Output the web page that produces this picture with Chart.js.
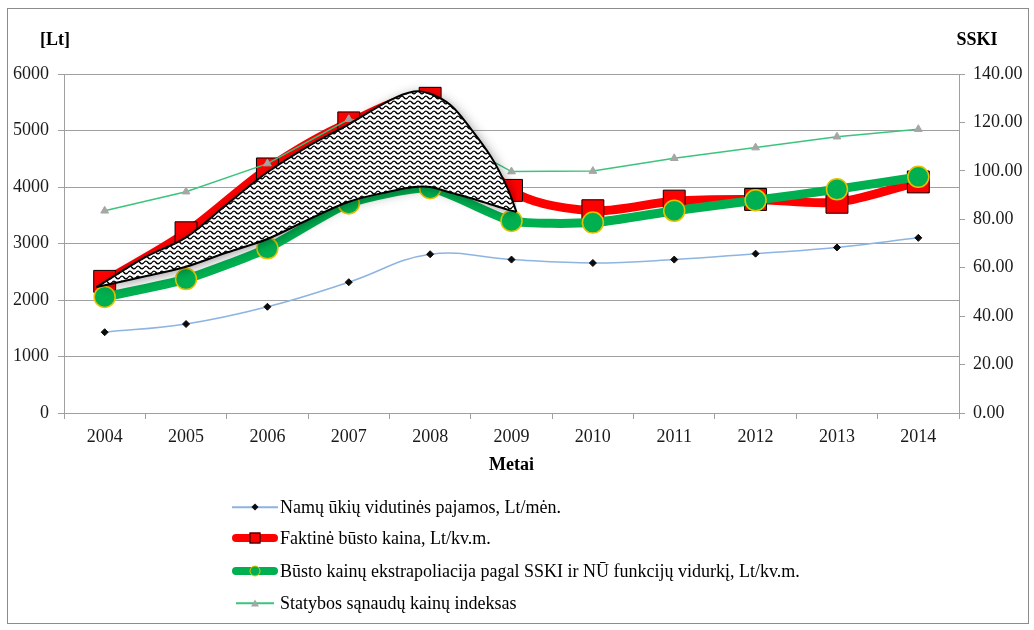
<!DOCTYPE html>
<html>
<head>
<meta charset="utf-8">
<script src="https://cdn.jsdelivr.net/npm/chart.js@4.4.1/dist/chart.umd.min.js"></script>
<style>
  html, body { margin: 0; padding: 0; background: #fff; }
  #wrap { position: relative; width: 1034px; height: 630px; font-family: "Liberation Serif", "Times New Roman", serif; color: #000; }
  #frame { position: absolute; left: 7px; top: 8px; width: 1020px; height: 614px; border: 1px solid #8c8c8c; }
  #chart { position: absolute; left: 0; top: 0; }
  .axt { position: absolute; font-weight: bold; font-size: 18px; transform: translate(-50%, -50%); white-space: nowrap; }
  #legend { position: absolute; left: 232px; top: 490px; }
  .li { position: absolute; left: 0; height: 20px; white-space: nowrap; font-size: 18px; }
  .sym { position: absolute; left: 0; top: 0; width: 46px; height: 20px; }
  .ln { position: absolute; left: 0; right: 0; top: 50%; transform: translateY(-50%); }
  .mk { position: absolute; left: 50%; top: 50%; transform: translate(-50%, -50%); }
  .tx { position: absolute; left: 48px; top: 50%; transform: translateY(-50%); line-height: 20px; }
</style>
</head>
<body>
<div id="wrap">
  <div id="frame"></div>
  <canvas id="chart" width="1034" height="630"></canvas>
  <div class="axt" style="left:55px; top:39px;">[Lt]</div>
  <div class="axt" style="left:977px; top:39px;">SSKI</div>
  <div id="legend"></div>
</div>
<script>
// metai
const years = ["2004", "2005", "2006", "2007", "2008", "2009", "2010", "2011", "2012", "2013", "2014"];
// Lt axis series
const incomeLt = [1430, 1575, 1880, 2315, 2810, 2715, 2655, 2715, 2820, 2930, 3100];
const priceLt = [2330, 3190, 4320, 5135, 5570, 3940, 3580, 3750, 3780, 3730, 4090];
const extrapLt = [2055, 2370, 2915, 3710, 3980, 3400, 3370, 3580, 3765, 3960, 4180];
// SSKI axis series
const sskiIdx = [83.5, 91.4, 103.0, 121.3, 118.0, 99.7, 99.9, 105.2, 109.6, 114.1, 117.2];
// hatched "bubble" outline (upper / lower edge)
const hatchYears = [2003.9, 2004.5, 2005, 2005.5, 2006, 2006.5, 2007, 2007.5, 2007.8, 2008, 2008.25, 2008.5, 2008.75, 2008.95, 2009.06];
const hatchTop = [2230, 2760, 3110, 3690, 4260, 4720, 5110, 5530, 5690, 5650, 5450, 5030, 4530, 3980, 3560];
const hatchBottom = [2230, 2420, 2590, 2840, 3080, 3420, 3740, 3920, 4000, 4000, 3900, 3800, 3690, 3600, 3560];

const labels = [
  "Namų ūkių vidutinės pajamos, Lt/mėn.",
  "Faktinė būsto kaina, Lt/kv.m.",
  "Būsto kainų ekstrapoliacija pagal SSKI ir NŪ funkcijų vidurkį, Lt/kv.m.",
  "Statybos sąnaudų kainų indeksas",
];

const GRID = "#a0a0a0";
const RED = "#ff0000";
const GREEN = "#00b050";
const BLUE = "#8db4e2";
const SSKI_GREEN = "#3cc47c";

function wavePattern() {
  const c = document.createElement("canvas");
  c.width = 8;
  c.height = 5;
  const g = c.getContext("2d");
  g.fillStyle = "#fff";
  g.fillRect(0, 0, 8, 5);
  g.strokeStyle = "#000";
  g.lineWidth = 1.4;
  g.beginPath();
  g.moveTo(0, 2.5);
  g.quadraticCurveTo(2, -0.3, 4, 2.5);
  g.quadraticCurveTo(6, 5.3, 8, 2.5);
  g.stroke();
  return g.createPattern(c, "repeat");
}

const pts = (ys) => hatchYears.map((x, i) => ({ x, y: ys[i] }));

function setShadow(ctx, on) {
  ctx.shadowColor = on ? "rgba(0,0,0,0.4)" : "rgba(0,0,0,0)";
  ctx.shadowBlur = on ? 12 : 0;
  ctx.shadowOffsetX = on ? 2 : 0;
  ctx.shadowOffsetY = on ? 2 : 0;
}

// soft shadow under the hatched fill only (filler draws before this plugin's hook)
const hatchShadow = {
  id: "hatchShadow",
  afterDatasetDraw(chart, args) {
    if (chart.data.datasets[args.index].id === "sski") setShadow(chart.ctx, true);
  },
  beforeDatasetDraw(chart, args) {
    if (chart.data.datasets[args.index].id === "hatchTop") setShadow(chart.ctx, false);
  },
};

Chart.defaults.font.family = '"Liberation Serif", "Times New Roman", serif';
Chart.defaults.font.size = 18;
Chart.defaults.color = "#1a1a1a";

const chart = new Chart(document.getElementById("chart").getContext("2d"), {
  type: "line",
  data: {
    labels: years,
    datasets: [
      {
        id: "income", label: labels[0], data: incomeLt, yAxisID: "y", order: 6,
        borderColor: BLUE, borderWidth: 1.5, tension: 0.4,
        pointStyle: "rectRot", pointRadius: 3.5, pointBackgroundColor: "#0b0b0b", pointBorderColor: "#0b0b0b", pointBorderWidth: 1,
      },
      {
        id: "price", label: labels[1], data: priceLt, yAxisID: "y", order: 5,
        borderColor: RED, borderWidth: 9, tension: 0.3, borderJoinStyle: "round", borderCapStyle: "round",
        pointStyle: "rect", pointRadius: 15.5, pointBackgroundColor: RED, pointBorderColor: "#000", pointBorderWidth: 1,
      },
      {
        id: "extrap", label: labels[2], data: extrapLt, yAxisID: "y", order: 4,
        borderColor: GREEN, borderWidth: 9, tension: 0.2, borderJoinStyle: "round", borderCapStyle: "round",
        pointStyle: "circle", pointRadius: 10.5, pointBackgroundColor: GREEN, pointBorderColor: "#e6c200", pointBorderWidth: 1.5,
      },
      {
        id: "sski", label: labels[3], data: sskiIdx, yAxisID: "y1", order: 3,
        borderColor: SSKI_GREEN, borderWidth: 1.5, tension: 0,
        pointStyle: "triangle", pointRadius: 4.5, pointBackgroundColor: "#a6a6a6", pointBorderColor: "#a6a6a6", pointBorderWidth: 1,
      },
      {
        id: "hatchTop", label: "", data: pts(hatchTop), xAxisID: "xh", yAxisID: "y", order: 2,
        borderColor: "#000", borderWidth: 2, tension: 0.35, pointRadius: 0,
        fill: "+1", backgroundColor: wavePattern(),
      },
      {
        id: "hatchBottom", label: "", data: pts(hatchBottom), xAxisID: "xh", yAxisID: "y", order: 1,
        borderColor: "#000", borderWidth: 2, tension: 0.35, pointRadius: 0, fill: false,
      },
    ],
  },
  options: {
    responsive: false,
    animation: false,
    layout: { padding: { left: 0, right: 0, top: 74, bottom: 151 } },
    plugins: {
      legend: { display: false },
      tooltip: { enabled: false },
      filler: { propagate: false },
    },
    scales: {
      x: {
        type: "category",
        offset: true,
        grid: { drawOnChartArea: false, offset: true, color: GRID, tickLength: 6 },
        border: { color: GRID, width: 1 },
        ticks: { padding: 7, color: "#1a1a1a" },
        title: { display: true, text: "Metai", font: { weight: "bold", size: 18 }, color: "#000", padding: { top: 4, bottom: 3 } },
        afterFit: (s) => { s.height = 66; },
      },
      xh: { type: "linear", display: false, min: 2003.5, max: 2014.5 },
      y: {
        position: "left",
        min: 0, max: 6000,
        ticks: { stepSize: 1000, padding: 9, color: "#1a1a1a", callback: (v) => String(v) },
        grid: { color: GRID, tickLength: 6 },
        border: { color: GRID, width: 1 },
        afterFit: (s) => { s.width = 64; },
      },
      y1: {
        position: "right",
        min: 0, max: 140,
        ticks: { stepSize: 20, padding: 8, color: "#1a1a1a", callback: (v) => Number(v).toFixed(2) },
        grid: { drawOnChartArea: false, color: GRID, tickLength: 6 },
        border: { color: GRID, width: 1 },
        afterFit: (s) => { s.width = 75; },
      },
    },
  },
  plugins: [hatchShadow],
});

// legend, one entry per row like the original
const legendSyms = [
  '<div class="ln" style="height:1.5px;background:' + BLUE + '"></div><div class="mk" style="width:5px;height:5px;background:#0b0b0b;transform:translate(-50%,-50%) rotate(45deg)"></div>',
  '<div class="ln" style="height:8px;border-radius:4px;background:' + RED + '"></div><div class="mk" style="width:9px;height:9px;background:' + RED + ';border:1px solid #000"></div>',
  '<div class="ln" style="height:8px;border-radius:4px;background:' + GREEN + '"></div><div class="mk" style="width:9px;height:9px;border-radius:50%;background:' + GREEN + ';border:1px solid #e6c200"></div>',
  '<div class="ln" style="height:1.5px;left:4px;right:4px;background:' + SSKI_GREEN + '"></div><div class="mk" style="width:0;height:0;border-left:4px solid transparent;border-right:4px solid transparent;border-bottom:7px solid #a6a6a6"></div>',
];
const legendRowY = [17, 48, 81, 113];
const legend = document.getElementById("legend");
labels.forEach((t, i) => {
  const row = document.createElement("div");
  row.className = "li";
  row.style.top = (legendRowY[i] - 10) + "px";
  row.innerHTML = '<div class="sym">' + legendSyms[i] + '</div><div class="tx"></div>';
  row.querySelector(".tx").textContent = t;
  legend.appendChild(row);
});
</script>
</body>
</html>
